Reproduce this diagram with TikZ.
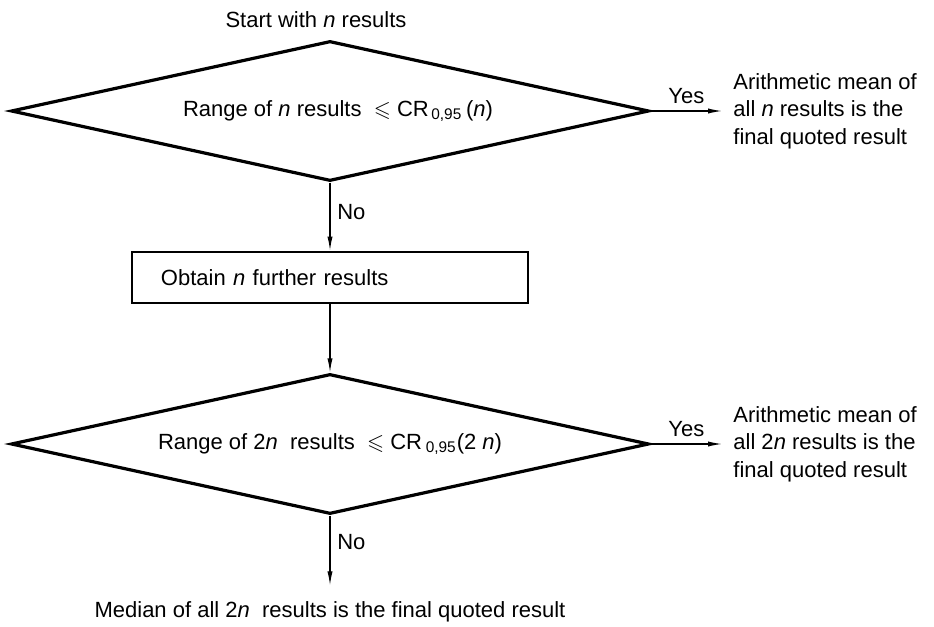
\documentclass[tikz,border=0pt]{standalone}
\usepackage{amssymb}
\usepackage{fontspec}
\setmainfont{Liberation Sans}
\usetikzlibrary{shapes.geometric,arrows.meta}

\begin{document}
\begin{tikzpicture}[x=0.5pt,y=-0.5pt,
        font=\fontsize{11}{13.75}\selectfont,
        test/.style={diamond,draw,line width=1.6pt,aspect=4.5,inner sep=0pt,
            minimum width=319pt,minimum height=70pt},
        stepbox/.style={draw,line width=1.4pt,minimum height=25.5pt,
            text width=169pt,inner xsep=14.5pt,align=left},
        outcome/.style={anchor=west,align=left,inner xsep=5.5pt},
        flow/.style={line width=.6pt,-{Latex[length=7pt,width=2.6pt]}}]
        \useasboundingbox (0,0) rectangle (934,627);
        \node (start) at (316,20) {Start with \textit{n} results};
        % first test
        \node[test] (test1) at (330,111) {\hspace*{8pt}Range of \textit{n} results \ $\leqslant$ CR\textsubscript{\,0,95}\,(\textit{n})};
        \node[outcome] (mean1) at (722,111) {Arithmetic mean of\\all \textit{n} results is the\\final quoted result};
        \draw[flow] (test1.east) -- node[above] {Yes} (mean1.west);
        \node[stepbox] (further) at (330,277.5) {Obtain \textit{n} further results};
        \draw[flow] (test1.south) -- node[right,pos=.44] {No} (further.north);
        % second test
        \node[test] (test2) at (330,444) {Range of 2\textit{n} \ results \ $\leqslant$ CR\,\textsubscript{0,95}(2 \textit{n})};
        \draw[flow] (further.south) -- (test2.north);
        \node[outcome] (mean2) at (722,444) {Arithmetic mean of\\all 2\textit{n} results is the\\final quoted result};
        \draw[flow] (test2.east) -- node[above] {Yes} (mean2.west);
        \node[inner ysep=8pt] (median) at (330,612) {Median of all 2\textit{n} \ results is the final quoted result};
        \draw[flow] (test2.south) -- node[right,pos=.38] {No} (median.north);
    \end{tikzpicture}
\end{document}
